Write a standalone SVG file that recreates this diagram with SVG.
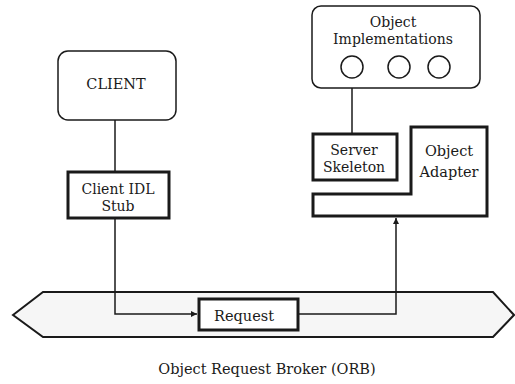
<svg xmlns="http://www.w3.org/2000/svg" width="515" height="384" viewBox="0 0 515 384">
  <style>
    .txt { font-family: "DejaVu Serif", "Liberation Serif", serif; font-size: 14.5px; fill: #1a1a1a; text-anchor: middle; }
    .tight { font-size: 14px; }
    .thin { fill: #fff; stroke: #1a1a1a; stroke-width: 1.5; }
    .thick { fill: #fff; stroke: #1a1a1a; stroke-width: 3; }
    .wire { fill: none; stroke: #1a1a1a; stroke-width: 1.5; }
  </style>
  <defs>
    <marker id="arrow" viewBox="0 0 10 10" refX="10" refY="5" markerWidth="8" markerHeight="6" orient="auto" markerUnits="userSpaceOnUse">
      <path d="M0,0 L10,5 L0,10 z" fill="#1a1a1a"/>
    </marker>
  </defs>
  <rect width="515" height="384" fill="#fff"/>

  <!-- ORB band -->
  <g id="orb">
    <polygon points="13,315 43,292 493,292 514,315 493,337 43,337" fill="#f6f6f6" stroke="#1a1a1a" stroke-width="2"/>
    <text class="txt" x="267" y="374">Object Request Broker (ORB)</text>
  </g>

  <!-- Connectors -->
  <g id="connectors">
    <line class="wire" x1="115" y1="120" x2="115" y2="171"/>
    <polyline class="wire" points="115,218 115,314 197,314" marker-end="url(#arrow)"/>
    <polyline class="wire" points="298,314 396,314 396,218" marker-end="url(#arrow)"/>
    <line class="wire" x1="352" y1="133" x2="352" y2="79" marker-end="url(#arrow)"/>
  </g>

  <g id="client">
    <rect class="thin" x="58" y="51" width="118" height="69" rx="10"/>
    <text class="txt" x="116" y="89">CLIENT</text>
  </g>

  <g id="client-stub">
    <rect class="thick" x="68" y="172" width="101" height="46"/>
    <text class="txt tight" x="118" y="194">Client IDL</text>
    <text class="txt tight" x="118" y="211">Stub</text>
  </g>

  <g id="request">
    <rect class="thick" x="199" y="299" width="99" height="31"/>
    <text class="txt" x="244" y="321">Request</text>
  </g>

  <g id="object-implementations">
    <rect class="thin" x="312" y="6" width="168" height="82" rx="9"/>
    <text class="txt tight" x="393" y="27">Object</text>
    <text class="txt tight" x="393" y="44">Implementations</text>
    <circle class="thin" cx="352" cy="67" r="11"/>
    <circle class="thin" cx="399" cy="67" r="11"/>
    <circle class="thin" cx="439" cy="67" r="11"/>
  </g>

  <g id="server-skeleton">
    <rect class="thick" x="313" y="134" width="84" height="46"/>
    <text class="txt tight" x="354" y="155">Server</text>
    <text class="txt tight" x="354" y="172">Skeleton</text>
  </g>

  <g id="object-adapter">
    <polygon class="thick" points="411,127 487,127 487,216 313,216 313,194 411,194"/>
    <text class="txt" x="449" y="156">Object</text>
    <text class="txt" x="449" y="177">Adapter</text>
  </g>
</svg>
